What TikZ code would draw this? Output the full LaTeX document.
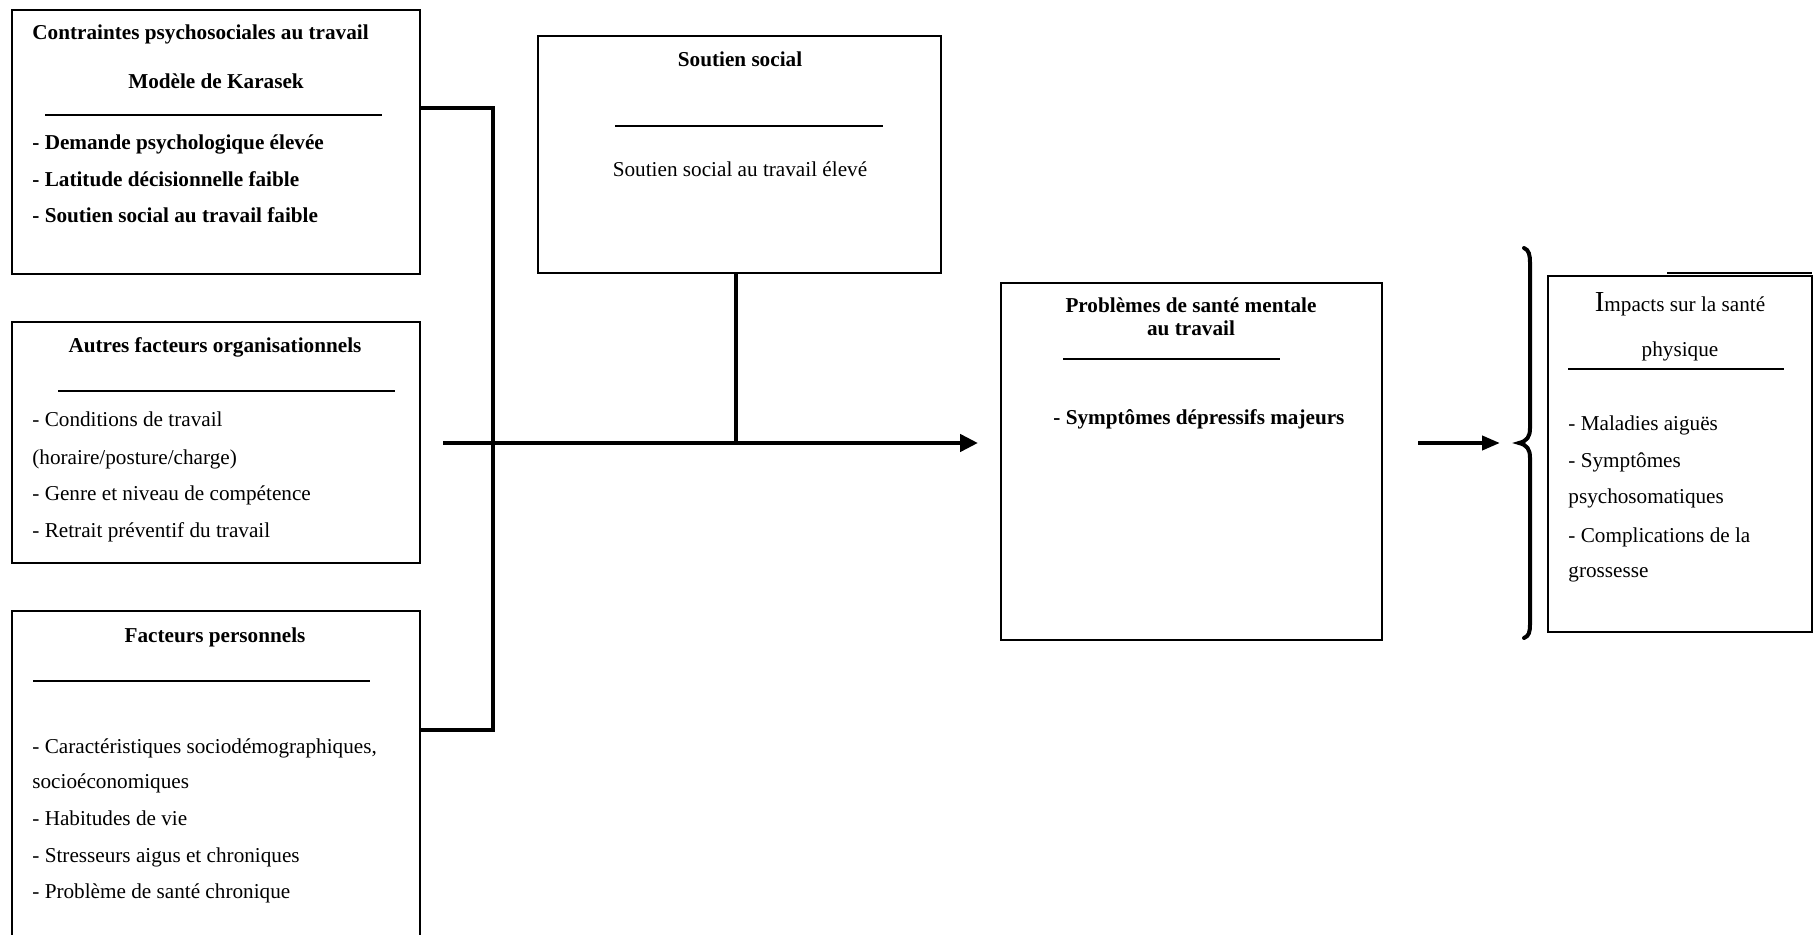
\documentclass[tikz,border=0pt]{standalone}
\usepackage{fontspec}
\setmainfont{Liberation Serif}
\usetikzlibrary{arrows.meta}
\begin{document}
\begin{tikzpicture}[x=0.5pt,y=-0.5pt,
  box/.style={draw, line width=1pt, inner sep=0pt, outer sep=0pt, anchor=north west},
  txt/.style={anchor=west, inner sep=0pt, font=\fontsize{10.6}{12.7}\selectfont, text height=0.7em, text depth=0.2em},
  txtc/.style={txt, anchor=center},
  bold/.style={font=\fontsize{10.6}{12.7}\selectfont\bfseries},
  rulel/.style={line width=1pt},
  conn/.style={line width=2.4pt},
  arr/.style={line width=2.4pt, -{Triangle[length=9pt,width=8.5pt]}},
  arrb/.style={line width=2pt, -{Triangle[length=9pt,width=7pt]}},
  brace/.style={line width=2pt, line cap=round},
]
\path[use as bounding box, fill=white] (0,0) rectangle (1814,935);
\begin{scope}
\clip (0,0) rectangle (1814,935);

% ---------- boxes ----------
\node[box, minimum width=204pt, minimum height=132pt] (b1) at (12,10) {};
\node[box, minimum width=204pt, minimum height=120.5pt] (b2) at (12,322) {};
\node[box, minimum width=204pt, minimum height=165pt] (b3) at (12,611) {};
\node[box, minimum width=201.5pt, minimum height=118.5pt] (b4) at (538,36) {};
\node[box, minimum width=190.5pt, minimum height=178.5pt] (b5) at (1001,283) {};
\node[box, minimum width=132pt, minimum height=178pt] (b6) at (1548,276) {};
\draw[line width=1pt] (1667,273.5) -- (b6.north east |- 0,273.5);

% ---------- box 1 ----------
\node[txt, bold] (t11) at (32,35) {Contraintes psychosociales au travail};
\node[txtc, bold] (t12) at (216,84) {Modèle de Karasek};
\draw[rulel] (45,115) -- (382,115);
\node[txt, bold] (t13) at (32,145) {- Demande psychologique élevée};
\node[txt, bold] (t14) at (32,182) {- Latitude décisionnelle faible};
\node[txt, bold] (t15) at (32,218) {- Soutien social au travail faible};

% ---------- box 2 ----------
\node[txtc, bold] (t21) at (215,348) {Autres facteurs organisationnels};
\draw[rulel] (58,391) -- (395,391);
\node[txt] (t22) at (32,422) {- Conditions de travail};
\node[txt] (t23) at (32,459) {(horaire/posture/charge)};
\node[txt] (t24) at (32,495) {- Genre et niveau de compétence};
\node[txt] (t25) at (32,532) {- Retrait préventif du travail};

% ---------- box 3 ----------
\node[txtc, bold] (t31) at (215,637) {Facteurs personnels};
\draw[rulel] (33,681) -- (370,681);
\node[txt] (t32) at (32,748) {- Caractéristiques sociodémographiques,};
\node[txt] (t33) at (32,783) {socioéconomiques};
\node[txt] (t34) at (32,820) {- Habitudes de vie};
\node[txt] (t35) at (32,857) {- Stresseurs aigus et chroniques};
\node[txt] (t36) at (32,893) {- Problème de santé chronique};

% ---------- box 4 ----------
\node[txtc, bold] (t41) at (740,62) {Soutien social};
\draw[rulel] (615,126) -- (883,126);
\node[txtc] (t42) at (740,172) {Soutien social au travail élevé};

% ---------- box 5 ----------
\node[txtc, bold] (t51) at (1191,308) {Problèmes de santé mentale};
\node[txtc, bold] (t52) at (1191,331) {au travail};
\draw[rulel] (1063,359) -- (1280,359);
\node[txt, bold] (t53) at (1053,419) {- Symptômes dépressifs majeurs};

% ---------- box 6 ----------
\node[txtc] (t61) at (1680,307) {{\fontsize{14.5}{14.5}\selectfont I}mpacts sur la santé};
\node[txtc] (t62) at (1680,352) {physique};
\draw[rulel] (1568,369) -- (1784,369);
\node[txt] (t63) at (1568,425) {- Maladies aiguës};
\node[txt] (t64) at (1568,462) {- Symptômes};
\node[txt] (t65) at (1568,498) {psychosomatiques};
\node[txt] (t66) at (1568,537) {- Complications de la};
\node[txt] (t67) at (1568,572) {grossesse};

% ---------- connectors ----------
\coordinate (j1) at (493,108);
\coordinate (j3) at (493,730);
\draw[conn] (j1 -| b1.east) -- (j1) -- (j3) -- (j3 -| b3.east);

\coordinate (h0) at (443,443);
\coordinate (h1) at (978,443);
\draw[arr] (h0) -- (h1);

\coordinate (s0) at (736,443);
\draw[conn] (s0 |- b4.south) -- (s0);

\coordinate (a0) at (1418,443);
\coordinate (a1) at (1500,443);
\draw[arrb] (a0) -- (a1);

% brace
\draw[brace] (1524,248) .. controls (1529,250) and (1530,255) .. (1530,263)
  -- (1530,428) .. controls (1530,437) and (1527,441) .. (1519,443)
  .. controls (1527,445) and (1530,449) .. (1530,458)
  -- (1530,624) .. controls (1530,632) and (1529,636) .. (1524,638);
\end{scope}
\end{tikzpicture}
\end{document}
